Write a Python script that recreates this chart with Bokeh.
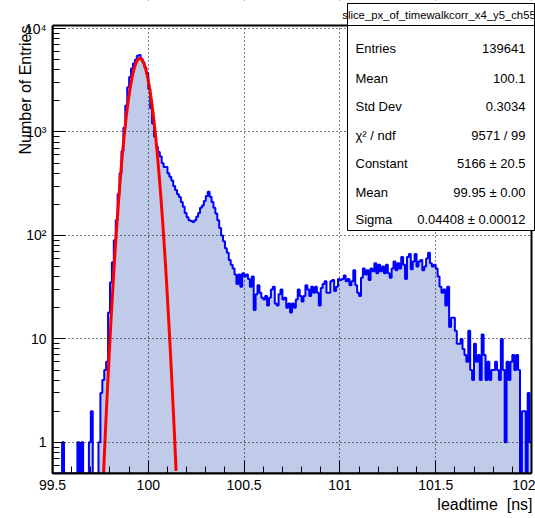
import numpy as np
from math import log10
from bokeh.plotting import figure
from bokeh.models import Range1d, SingleIntervalTicker, BoxAnnotation, Label, Title
from bokeh.embed import file_html
from bokeh.resources import INLINE

FONT = "Liberation Sans"

# ---------------- data ----------------
x_min, x_max = 99.5, 102.0
y_min, y_max = 0.5, 10700
bin_width = 0.01

counts = [
    0, 0, 0, 0, 0, 1, 0, 0, 0, 0,
    0, 0, 0, 1, 0, 1, 0, 0, 0, 1,
    2, 0, 0, 0, 1, 3, 4, 5, 6, 18,
    35, 55, 90, 140, 250, 400, 650, 1100, 1800, 2700,
    3400, 4100, 4600, 5000, 5450, 5550, 5100, 4700, 4200, 3700,
    2600, 1700, 1200, 900, 720, 640, 580, 500, 460, 460,
    400, 370, 340, 300, 275, 250, 235, 210, 189, 165,
    150, 140, 138, 135, 140, 152, 165, 185, 195, 215,
    240, 265, 237, 210, 185, 163, 140, 118, 100, 88,
    75, 68, 58, 52, 48, 42, 34, 42, 32, 43,
    40, 42, 38, 32, 40, 19, 27, 33, 28, 25,
    24, 26, 21, 25, 30, 32, 22, 21, 27, 30,
    24, 25, 20, 22, 18, 22, 20, 24, 30, 26,
    23, 26, 33, 30, 26, 32, 28, 32, 28, 21,
    31, 34, 36, 28, 28, 36, 37, 29, 32, 38,
    37, 38, 41, 36, 38, 33, 36, 46, 33, 28,
    26, 39, 48, 42, 46, 37, 48, 45, 54, 43,
    52, 45, 50, 43, 52, 43, 39, 48, 56, 46,
    54, 48, 62, 52, 38, 62, 66, 47, 56, 66,
    50, 56, 58, 46, 50, 60, 68, 54, 50, 52,
    48, 40, 32, 28, 30, 21, 32, 13, 16, 16,
    12, 9, 9, 10, 8, 7, 6, 12, 5, 4,
    9, 6, 7, 4, 11, 7, 4, 6, 4, 5,
    5, 6, 5, 4, 10, 5, 1, 6, 4, 6,
    7, 5, 7, 5, 0, 2, 2, 0, 3, 1,
]

fit_x = [99.765, 99.775, 99.785, 99.795, 99.805, 99.815, 99.825, 99.835, 99.845, 99.855,
         99.865, 99.875, 99.885, 99.895, 99.905, 99.915, 99.925, 99.935, 99.945, 99.955,
         99.965, 99.975, 99.985, 99.995, 100.005, 100.015, 100.025, 100.035, 100.045, 100.055,
         100.065, 100.075, 100.085, 100.095, 100.105, 100.115, 100.125, 100.135, 100.145]
fit_y = [0.43, 1.14, 2.8, 6.6, 14.7, 31, 63, 120, 217, 376,
         614, 955, 1410, 1984, 2646, 3353, 4035, 4613, 5007, 5166,
         5060, 4708, 4160, 3494, 2787, 2110, 1519, 1038, 674, 415,
         245, 135, 72, 36, 17, 7.7, 3.3, 1.37, 0.53]

x_ticks = [99.5, 100.0, 100.5, 101.0, 101.5, 102.0]
x_tick_labels = ["99.5", "100", "100.5", "101", "101.5", "102"]
y_ticks = [1, 10, 100, 1000, 10000]
y_tick_labels = ["1", "10", "10\u00b2", "10\u00b3", "10\u2074"]

x_title = "leadtime \u00a0[ns]"
y_title = "Number of Entries"
stats_title = "slice_px_of_timewalkcorr_x4_y5_ch55"
stats_names = ["Entries", "Mean", "Std Dev", "\u03c7\u00b2 / ndf", "Constant", "Mean", "Sigma"]
stats_values = ["139641", "100.1", "0.3034", "9571 / 99", "5166 \u00b1 20.5",
                "99.95 \u00b1 0.00", "0.04408 \u00b1 0.00012"]

# ---------------- layout (canvas px) ----------------
W, H = 535, 518
FL, FR, FT, FB = 52, 531, 25, 473       # ROOT frame in canvas pixels
BK_T, BK_R = 0, W                        # bokeh frame extends to top/right canvas edge

px_per_x = (FR - FL) / (x_max - x_min)
x_right_ext = x_max + (BK_R - FR) / px_per_x
px_per_dec = (FB - FT) / log10(y_max / y_min)
y_top_ext = y_max * 10 ** ((FT - BK_T) / px_per_dec)


def sx(x):
    return x - FL


def sy(y):
    return FB - y


edges = x_min + bin_width * np.arange(len(counts) + 1)
c = np.array(counts, dtype=float)
step_x = np.repeat(edges, 2)[1:-1]
step_y = np.repeat(np.where(c > 0, c, y_min), 2)

p = figure(width=W, height=H, x_range=Range1d(x_min, x_right_ext), y_range=Range1d(y_min, y_top_ext),
           y_axis_type="log", output_backend="svg", toolbar_location=None,
           min_border_left=FL, min_border_right=W - BK_R, min_border_top=BK_T, min_border_bottom=H - FB,
           background_fill_color="white", border_fill_color="white")
p.outline_line_color = None

p.varea(x=step_x, y1=y_min, y2=step_y, fill_color="#bfcbe8")
p.line(step_x, step_y, line_color="#0000ff", line_width=2)
p.line(fit_x, fit_y, line_color="#ff0000", line_width=3)

# axes
xa, ya = p.xaxis[0], p.yaxis[0]
xa.ticker = SingleIntervalTicker(interval=0.5, num_minor_ticks=5)
xa.major_label_overrides = {float(t): s for t, s in zip(x_ticks, x_tick_labels)}
ya.major_label_overrides = {float(t): s for t, s in zip(y_ticks, y_tick_labels)}
xa.bounds = (x_min, x_max)
ya.bounds = (y_min, y_max)
for ax in (xa, ya):
    ax.major_label_text_font = FONT
    ax.major_label_text_font_size = "14px"
    ax.major_label_text_color = "black"
    ax.major_tick_in = 13
    ax.major_tick_out = 0
    ax.minor_tick_in = 7
    ax.minor_tick_out = 0
    ax.major_tick_line_color = "black"
    ax.minor_tick_line_color = "black"
    ax.axis_line_color = "black"
    ax.axis_line_width = 2
    ax.major_label_standoff = 6


def make_title(text, offset, standoffs):
    t = Title(text=text, align="right", text_font=FONT, text_font_size="16px",
              text_font_style="normal", text_color="black", offset=offset)
    for s in standoffs:
        try:
            t.standoff = s
            break
        except Exception:
            pass
    return t


# right-aligned titles: offset moves the text inwards from the bokeh frame end
p.add_layout(make_title(x_title, BK_R - (FR + 1), [2, 0]), "below")
p.add_layout(make_title(y_title, FT - BK_T, [-24, 0]), "left")

for g in (p.xgrid[0], p.ygrid[0]):
    g.grid_line_color = "black"
    g.grid_line_dash = "1 3"
    g.grid_line_width = 1
    g.level = "guide"

# hide the extension strips (above and right of the ROOT frame)
p.add_layout(BoxAnnotation(bottom=y_max, fill_color="white", fill_alpha=1.0, line_color=None))
p.add_layout(BoxAnnotation(left=x_max, fill_color="white", fill_alpha=1.0, line_color=None))
# ROOT frame
p.add_layout(BoxAnnotation(left=x_min, right=x_max, bottom=y_min, top=y_max,
                           fill_alpha=0.0, line_color="black", line_width=2, line_alpha=1.0))

# stats box
BL, BR, BT, BB = 347, 534, 3, 230
for top_y in (BB, FT):
    p.add_layout(BoxAnnotation(left=sx(BL), right=sx(BR), top=sy(BT), bottom=sy(top_y),
                               left_units="screen", right_units="screen",
                               top_units="screen", bottom_units="screen",
                               fill_color="white", fill_alpha=1.0, line_color="black",
                               line_width=1, line_alpha=1.0))
p.add_layout(Label(x=sx((BL + BR) / 2 - 2), y=sy(14), x_units="screen", y_units="screen", text=stats_title,
                   text_align="center", text_baseline="middle",
                   text_font=FONT, text_font_size="11.3px", text_color="black"))
row_y = [48, 78, 106, 135, 163, 192, 219]
for name, val, yy in zip(stats_names, stats_values, row_y):
    p.add_layout(Label(x=sx(355), y=sy(yy), x_units="screen", y_units="screen", text=name,
                       text_align="left", text_baseline="middle",
                       text_font=FONT, text_font_size="13px", text_color="black"))
    p.add_layout(Label(x=sx(525), y=sy(yy), x_units="screen", y_units="screen", text=val,
                       text_align="right", text_baseline="middle",
                       text_font=FONT, text_font_size="13px", text_color="black"))

open("out.html", "w").write(file_html(p, INLINE))
